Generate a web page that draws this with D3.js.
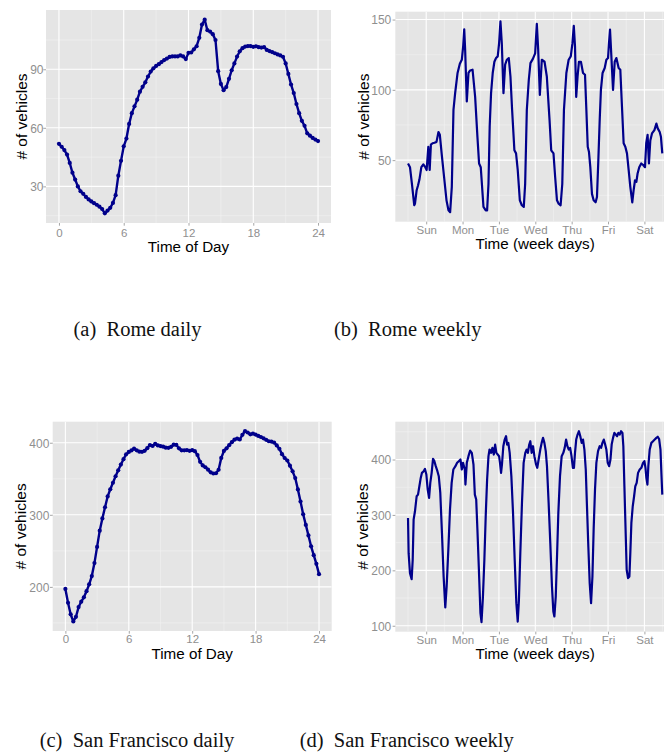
<!DOCTYPE html>
<html>
<head>
<meta charset="utf-8">
<script src="https://cdn.jsdelivr.net/npm/d3@7"></script>
<style>
  body { margin: 0; background: #fff; }
  svg { display: block; }
  .cap { white-space: pre; }
</style>
</head>
<body>
<svg id="fig" width="664" height="752"></svg>
<script>
// ---------------- data ----------------
// quarter-hour time grid for the daily profiles
const dayHours = [
  0, 0.25, 0.5, 0.75, 1, 1.25, 1.5, 1.75, 2, 2.25, 2.5, 2.75,
  3, 3.25, 3.5, 3.75, 4, 4.25, 4.5, 4.75, 5, 5.25, 5.5, 5.75,
  6, 6.25, 6.5, 6.75, 7, 7.25, 7.5, 7.75, 8, 8.25, 8.5, 8.75,
  9, 9.25, 9.5, 9.75, 10, 10.25, 10.5, 10.75, 11, 11.25, 11.5, 11.75,
  12, 12.25, 12.5, 12.75, 13, 13.25, 13.5, 13.75, 14, 14.25, 14.5, 14.75,
  15, 15.25, 15.5, 15.75, 16, 16.25, 16.5, 16.75, 17, 17.25, 17.5, 17.75,
  18, 18.25, 18.5, 18.75, 19, 19.25, 19.5, 19.75, 20, 20.25, 20.5, 20.75,
  21, 21.25, 21.5, 21.75, 22, 22.25, 22.5, 22.75, 23, 23.25, 23.5, 23.75, 24
];

// Rome, average vehicles per quarter hour
const romeDaily = [
  51.8, 50.3, 48.6, 46.3, 42.0, 37.0, 33.5, 30.0, 27.5, 26.2, 24.6, 23.3,
  22.3, 21.4, 20.6, 19.6, 18.4, 16.2, 17.6, 19.0, 21.5, 25.5, 35.5, 43.1,
  50.5, 54.5, 62.0, 67.5, 71.0, 74.4, 78.5, 81.0, 83.3, 86.3, 88.8, 90.5,
  91.7, 92.6, 93.7, 94.7, 95.5, 96.3, 96.6, 96.6, 96.6, 97.1, 96.6, 95.2,
  98.4, 98.6, 100.2, 101.8, 106.1, 112.9, 115.4, 110.0, 109.3, 108.0, 105.0, 89.0,
  82.5, 79.3, 80.9, 85.1, 89.5, 93.0, 96.5, 99.2, 100.8, 101.6, 101.9, 101.9,
  101.5, 101.8, 101.3, 101.1, 101.3, 99.9, 99.3, 98.8, 98.2, 97.6, 97.1, 96.4,
  93.0, 87.6, 82.2, 77.8, 72.2, 67.5, 63.6, 61.0, 57.2, 56.0, 54.8, 54.0, 53.2
];

// San Francisco, average vehicles per quarter hour
const sfDaily = [
  197.2, 178, 162, 152, 158.5, 172, 179.5, 185.5, 194, 203.5, 215, 233,
  255.5, 278, 295, 310.5, 325.5, 335.5, 344.5, 353.5, 361.8, 369.7, 377.2, 384,
  387.3, 389.3, 391.8, 389.5, 387.6, 387.4, 388.8, 392.5, 396.8, 395.5, 398.5, 396.3,
  395.4, 394.6, 393.2, 392.9, 394.4, 397.3, 397.0, 392.2, 389.5, 389.5, 389.8, 388.8,
  389.7, 388.3, 383, 373.5, 368.5, 366, 362.7, 359, 357.3, 357.7, 362.5, 379,
  388.6, 392.3, 396.6, 400.8, 404.3, 405.8, 404.5, 411, 416, 414.2, 411.7, 412.6,
  411.4, 409.5, 408, 406.2, 404, 402.1, 401.6, 400.3, 396.3, 391.5, 384.2, 378.8,
  375.4, 368.2, 360.3, 351, 335.3, 318.5, 300.8, 286, 271.4, 256.3, 244, 232, 217.7
];

// Rome, vehicles over one week (hours from Sunday 00:00)
const romeWeekHours = [
  0, 1.3, 2.6, 4.1, 4.6, 5.7, 6.6, 7.5, 8.8, 10.1, 11.4, 12.3, 13.4, 14.3, 15.1, 16.2,
  17.5, 18.8, 20.1, 21, 22.3, 23.8, 25.4, 26.7, 27.8, 28.9, 30, 31.1, 32.7, 34.2, 35.5,
  36.4, 37.1, 37.7, 38.8, 39.9, 41, 42.6, 44.3, 45.8, 46.9, 48, 49.8, 51.3, 52.2, 53.1,
  53.9, 54.8, 55.9, 57, 58.1, 59.2, 60.1, 61, 61.9, 63, 64.1, 65.2, 66.5, 67.6, 68.7,
  70.2, 71.3, 72.4, 73.8, 75.1, 76.4, 77.3, 78.4, 79.7, 80.8, 82.4, 83.9, 85, 85.9, 87,
  88.3, 90.1, 91.6, 93.4, 94.5, 96, 97.1, 98.3, 99.4, 100.7, 101.8, 102.9, 104.5, 106,
  107.4, 108.5, 109.4, 110.2, 111, 111.9, 112.8, 114.1, 115.5, 116.8, 117.7, 118.6,
  119.4, 120.3, 121.4, 122.5, 123.8, 124.7, 125.6, 126.5, 127.3, 128.4, 129.8, 130.9,
  132, 132.6, 133.3, 134.2, 135.3, 136.4, 137.5, 139, 140.1, 141.2, 142.3, 143.4, 144.5,
  145.6, 146.7, 148, 148.9, 149.8, 150.7, 151.5, 152.6, 153.9, 155.3, 156.4, 157.2,
  158.1, 159, 159.9, 161, 162.6, 163.9, 164.8, 166.1, 166.9, 167.8
];
const romeWeekly = [
  47.6, 45, 33, 18, 19, 28.6, 32, 36, 45, 47, 45, 43, 59.5, 43, 61, 62,
  62.4, 63, 70, 68, 53.6, 38, 21.4, 14.3, 13, 31, 85.7, 97.6, 112, 118.6, 121.4,
  131, 143, 128.6, 91.7, 112, 113.8, 114.3, 95, 66.7, 47.6, 45, 16.7, 14.3, 14.3, 33,
  74, 97.6, 112, 120, 122.6, 123.8, 133, 148.8, 133, 97.6, 117.9, 121.4, 122.6, 109.5, 85.7,
  57, 54.8, 43, 21.4, 17.9, 16.7, 33, 85.7, 107, 119, 122, 126, 147, 128.6, 96.4,
  121.4, 120, 109.5, 78.6, 57, 54.8, 38, 21.4, 19, 17.9, 33, 85.7, 112, 121.4,
  123.8, 133, 145.5, 131, 95, 109.5, 120, 120, 112, 110.7, 85.7, 59.5,
  56, 45, 26, 21.4, 20, 23.8, 50, 78.6, 100, 112, 115.5, 121.4,
  122.6, 133, 142.9, 123.8, 100, 120, 122.6, 115.5, 114.3, 88, 62, 59.5, 54.8,
  43, 31, 20, 28.6, 35.7, 34.5, 40.5, 45, 47.6, 46.4, 45, 62,
  68, 47.6, 64, 69, 71.4, 76, 72.6, 70, 66.7, 54.8
];

// San Francisco, vehicles over one week (hours from Sunday 00:00)
const sfWeekHours = [
  0, 0.4, 1.3, 2.4, 3.1, 3.7, 4.6, 5.7, 6.6, 7.5, 8.4, 9.2, 10.3, 11.2, 12.1, 13, 13.9,
  14.7, 15.6, 16.5, 17.4, 18.3, 19.4, 20.3, 21.3, 22.4, 23.5, 24.6, 25.5, 26.6, 27.7,
  28.8, 29.9, 31.3, 32.4, 33.5, 34.6, 35.5, 36.3, 37.5, 37.9, 38.8, 39.9, 41, 42.1,
  43.2, 44.1, 45, 45.8, 46.7, 47.8, 48.5, 49.4, 50.4, 51.3, 52.2, 53.1, 53.8, 54.8,
  55.7, 56.6, 57.5, 58.3, 59.2, 60.1, 60.7, 61.4, 62, 62.9, 63.8, 64.7, 65.4, 66.2,
  67.1, 68.2, 69.3, 70.4, 71.5, 72.4, 73.2, 74.1, 75.2, 76.3, 77.4, 78.3, 79.1, 80,
  80.7, 81.6, 82.5, 83.4, 84.5, 85.3, 86.2, 87.3, 88.2, 89.1, 90, 90.9, 91.7, 92.8,
  93.9, 95, 95.9, 96.6, 97.5, 98.4, 99.2, 100.3, 101.4, 102.5, 103.4, 104.3, 105.2,
  106.1, 107, 107.9, 108.8, 109.5, 110.2, 111, 111.9, 112.8, 113.7, 114.6, 115.5,
  116.4, 117.3, 118.1, 119, 119.9, 120.8, 121.7, 122.5, 123.4, 124.3, 125.4, 126.5,
  127.4, 128.3, 129.2, 130.1, 130.9, 131.8, 132.7, 133.6, 134.4, 135.3, 136.2, 137.1,
  138, 138.8, 139.7, 140.6, 141.5, 142.1, 142.8, 143.7, 144.3, 145.2, 146.1, 146.7,
  147.4, 148.3, 149.2, 150, 150.9, 151.8, 152.9, 154, 155.1, 156, 156.7, 157.3, 158,
  158.6, 159.5, 160.6, 161.7, 162.8, 163.9, 164.8, 165.7, 166.6, 167.2, 167.8
];
const sfWeekly = [
  294.5, 231, 195, 184, 219, 291.5, 306.6, 333.7, 336.7, 351.8, 366.8, 375.9, 378.9, 383, 373, 345.7, 330.7,
  357.8, 375.9, 401.2, 397, 388, 378.9, 369.9, 339.7, 267.4, 189, 133, 171, 237, 309.6,
  357.8, 381.9, 388, 394, 397, 400, 382, 394, 382, 354.8, 394, 406, 416, 412,
  391, 336.7, 327.7, 273.4, 207, 122.7, 106.5, 150, 220, 300, 364, 406, 418, 412,
  421, 409, 427, 412, 409, 406, 394, 375.9, 391, 424, 436, 442, 427, 430,
  412, 370, 303.6, 219, 140.8, 107.6, 146.8, 231, 321.6, 394, 412, 418, 412, 427,
  433, 412, 424, 406, 391, 385, 400, 418, 430, 439, 430, 415, 388, 321.6,
  249, 171, 125.7, 116.7, 152.8, 231, 303.6, 370, 406, 412, 421, 436, 424,
  418, 421, 406, 385, 385, 412, 436, 445, 451, 442, 430, 436,
  418, 382, 315.6, 243, 177, 140.8, 189, 273.4, 345.7, 394, 415, 424,
  421, 430, 436, 427, 418, 394, 388, 400, 427, 439, 448, 445,
  442, 448, 445, 451, 448, 424, 351.8, 261.4, 201, 186, 189, 231,
  285.5, 315.6, 333.7, 351.8, 357.8, 375.9, 382, 385, 394, 397, 385, 366.8, 354.8,
  388, 418, 430, 433, 436, 439, 441, 437, 418, 376, 336.7
];

// axis breaks and labels
const dayTicks = [0, 6, 12, 18, 24];
const dayMinor = [3, 9, 15, 21];
const weekDays = ["Sun", "Mon", "Tue", "Wed", "Thu", "Fri", "Sat"];
const weekDayNoon = [12, 36, 60, 84, 108, 132, 156];
const weekMinor = [0, 24, 48, 72, 96, 120, 144, 168];
const romeDailyTicks = [30, 60, 90];
const romeDailyMinor = [15, 45, 75, 105];
const romeWeeklyTicks = [50, 100, 150];
const romeWeeklyMinor = [25, 75, 125];
const sfDailyTicks = [200, 300, 400];
const sfDailyMinor = [150, 250, 350];
const sfWeeklyTicks = [100, 200, 300, 400];
const sfWeeklyMinor = [150, 250, 350, 450];

// ---------------- layout ----------------
const panels = [
  { key: "a", xs: dayHours, ys: romeDaily, dots: true,
    box: { x0: 46, x1: 331, y0: 10, y1: 223 },
    xTicks: dayTicks, xLabels: dayTicks.map(String), xMinor: dayMinor,
    yTicks: romeDailyTicks, yMinor: romeDailyMinor,
    xTitle: "Time of Day", tickBase: 237.0, titleBase: 251.8, yLabRight: 43.5, yTitleX: 26.7,
    caption: "(a)  Rome daily", capX: 137.5, capY: 335.7 },
  { key: "b", xs: romeWeekHours, ys: romeWeekly, dots: false,
    box: { x0: 395.3, x1: 675, y0: 11.7, y1: 221.7 },
    xTicks: weekDayNoon, xLabels: weekDays, xMinor: weekMinor,
    yTicks: romeWeeklyTicks, yMinor: romeWeeklyMinor,
    xTitle: "Time (week days)", tickBase: 234.3, titleBase: 248.8, yLabRight: 391.3, yTitleX: 368.7,
    caption: "(b)  Rome weekly", capX: 407.7, capY: 335.7 },
  { key: "c", xs: dayHours, ys: sfDaily, dots: true,
    box: { x0: 52.7, x1: 331.7, y0: 421.7, y1: 631 },
    xTicks: dayTicks, xLabels: dayTicks.map(String), xMinor: dayMinor,
    yTicks: sfDailyTicks, yMinor: sfDailyMinor,
    xTitle: "Time of Day", tickBase: 642.6, titleBase: 658.8, yLabRight: 49.3, yTitleX: 26,
    caption: "(c)  San Francisco daily", capX: 137, capY: 747.3 },
  { key: "d", xs: sfWeekHours, ys: sfWeekly, dots: false,
    box: { x0: 395.3, x1: 675, y0: 421.7, y1: 631.7 },
    xTicks: weekDayNoon, xLabels: weekDays, xMinor: weekMinor,
    yTicks: sfWeeklyTicks, yMinor: sfWeeklyMinor,
    xTitle: "Time (week days)", tickBase: 643.6, titleBase: 658.8, yLabRight: 391.3, yTitleX: 368,
    caption: "(d)  San Francisco weekly", capX: 406.7, capY: 747.3 }
];

const style = {
  panelBg: "#E5E5E5",
  gridMajor: "#FFFFFF",
  gridMinor: "#F2F2F2",
  tickText: "#8F8F8F",
  tickLine: "#8F8F8F",
  title: "#000000",
  line: "#00008B",
  sans: "'Liberation Sans', Arial, sans-serif",
  serif: "'Liberation Serif', 'Times New Roman', serif"
};

// ggplot-style 5% expansion of a continuous range
function expand(ext) {
  const r = ext[1] - ext[0];
  return [ext[0] - 0.05 * r, ext[1] + 0.05 * r];
}

const svg = d3.select("#fig");
const defs = svg.append("defs");

panels.forEach(p => {
  const b = p.box;
  const x = d3.scaleLinear().domain(expand(d3.extent(p.xs))).range([b.x0, b.x1]);
  const y = d3.scaleLinear().domain(expand(d3.extent(p.ys))).range([b.y1, b.y0]);
  const g = svg.append("g").attr("class", "panel-" + p.key);

  defs.append("clipPath").attr("id", "clip-" + p.key)
    .append("rect").attr("x", b.x0).attr("y", b.y0)
    .attr("width", b.x1 - b.x0).attr("height", b.y1 - b.y0);

  // panel background
  g.append("rect").attr("x", b.x0).attr("y", b.y0)
    .attr("width", b.x1 - b.x0).attr("height", b.y1 - b.y0)
    .attr("fill", style.panelBg);

  const grid = g.append("g").attr("clip-path", `url(#clip-${p.key})`);
  // minor grid
  grid.selectAll(".vminor").data(p.xMinor).join("line")
    .attr("x1", d => x(d)).attr("x2", d => x(d)).attr("y1", b.y0).attr("y2", b.y1)
    .attr("stroke", style.gridMinor).attr("stroke-width", 0.6);
  grid.selectAll(".hminor").data(p.yMinor).join("line")
    .attr("y1", d => y(d)).attr("y2", d => y(d)).attr("x1", b.x0).attr("x2", b.x1)
    .attr("stroke", style.gridMinor).attr("stroke-width", 0.6);
  // major grid
  grid.selectAll(".vmajor").data(p.xTicks).join("line")
    .attr("x1", d => x(d)).attr("x2", d => x(d)).attr("y1", b.y0).attr("y2", b.y1)
    .attr("stroke", style.gridMajor).attr("stroke-width", 1.1);
  grid.selectAll(".hmajor").data(p.yTicks).join("line")
    .attr("y1", d => y(d)).attr("y2", d => y(d)).attr("x1", b.x0).attr("x2", b.x1)
    .attr("stroke", style.gridMajor).attr("stroke-width", 1.1);

  // series
  const pts = p.xs.map((h, i) => [h, p.ys[i]]);
  const plot = g.append("g").attr("clip-path", `url(#clip-${p.key})`);
  plot.append("path").datum(pts)
    .attr("d", d3.line().x(d => x(d[0])).y(d => y(d[1])))
    .attr("fill", "none").attr("stroke", style.line)
    .attr("stroke-width", p.dots ? 2.4 : 2.2)
    .attr("stroke-linejoin", "round");
  if (p.dots) {
    plot.selectAll("circle").data(pts).join("circle")
      .attr("cx", d => x(d[0])).attr("cy", d => y(d[1])).attr("r", 2.1)
      .attr("fill", style.line);
  }

  // x axis
  const xa = g.append("g").attr("transform", `translate(0,${b.y1})`)
    .call(d3.axisBottom(x).tickValues(p.xTicks).tickFormat((d, i) => p.xLabels[i])
      .tickSize(2.7).tickSizeOuter(0));
  xa.select(".domain").remove();
  xa.selectAll(".tick line").attr("stroke", style.tickLine).attr("stroke-width", 0.8);
  xa.selectAll(".tick text")
    .attr("y", p.tickBase - b.y1).attr("dy", null)
    .attr("fill", style.tickText).style("font-family", style.sans).style("font-size", "11.5px");

  // y axis
  const ya = g.append("g").attr("transform", `translate(${b.x0},0)`)
    .call(d3.axisLeft(y).tickValues(p.yTicks).tickFormat(d3.format("d"))
      .tickSize(2.7).tickSizeOuter(0));
  ya.select(".domain").remove();
  ya.selectAll(".tick line").attr("stroke", style.tickLine).attr("stroke-width", 0.8);
  ya.selectAll(".tick text")
    .attr("x", p.yLabRight - b.x0).attr("dy", "0.36em")
    .attr("fill", style.tickText).style("font-family", style.sans).style("font-size", "12px");

  // axis titles
  g.append("text").attr("x", (b.x0 + b.x1) / 2).attr("y", p.titleBase)
    .attr("text-anchor", "middle").attr("fill", style.title)
    .style("font-family", style.sans).style("font-size", "15.2px")
    .text(p.xTitle);
  g.append("text")
    .attr("transform", `translate(${p.yTitleX},${(b.y0 + b.y1) / 2}) rotate(-90)`)
    .attr("text-anchor", "middle").attr("fill", style.title)
    .style("font-family", style.sans).style("font-size", "15.5px")
    .text("# of vehicles");

  // sub-figure caption
  svg.append("text").attr("class", "cap")
    .attr("x", p.capX).attr("y", p.capY).attr("text-anchor", "middle")
    .attr("fill", "#111").style("font-family", style.serif).style("font-size", "20.5px")
    .text(p.caption);
});
</script>
</body>
</html>
